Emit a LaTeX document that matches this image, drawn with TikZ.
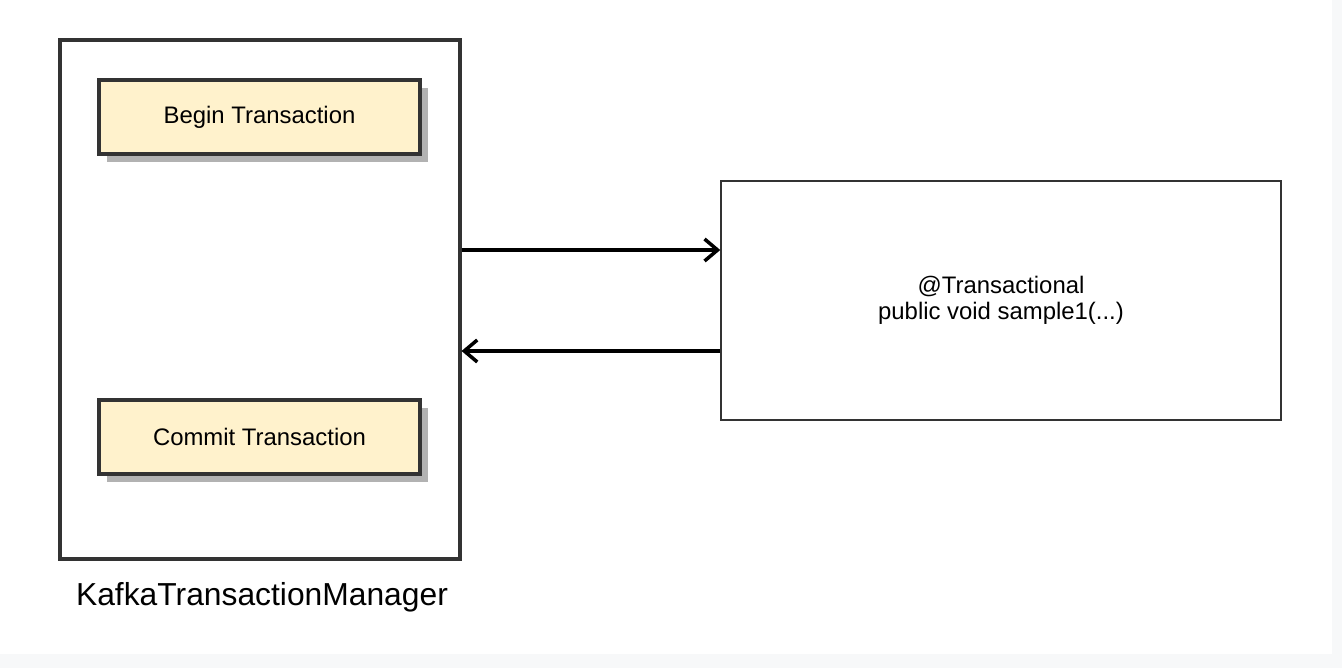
\documentclass[tikz,border=0pt]{standalone}
\usepackage{fontspec}
\setmainfont{Liberation Sans}
\usetikzlibrary{arrows.meta,shadows}
\definecolor{linegray}{HTML}{333333}
\definecolor{boxyellow}{HTML}{FFF2CC}
\definecolor{pagegray}{HTML}{F7F8F9}
\begin{document}
\begin{tikzpicture}[x=0.02cm, y=-0.02cm,
    frame/.style={draw=linegray, line width=1.8pt, minimum width=8cm, minimum height=10.38cm},
    stepbox/.style={draw=linegray, line width=1.8pt, fill=boxyellow, minimum width=6.42cm, minimum height=1.48cm,
      font=\fontsize{13.6}{16}\selectfont,
      drop shadow={shadow xshift=0.16cm, shadow yshift=-0.16cm, fill=black!30, opacity=1}},
    method/.style={draw=linegray, line width=0.9pt, minimum width=11.2cm, minimum height=4.78cm,
      align=center, font=\fontsize{13.6}{15}\selectfont},
    arr/.style={draw=black, line width=2pt, -{Straight Barb[length=2.6mm,width=4.4mm]}}]
        \useasboundingbox (0, 0) rectangle (1342, 668);
        \fill[pagegray] (0, 0) rectangle (1342, 668);
        \fill[white] (0, 0) rectangle (1332, 654);
        \node[frame] (mgr) at (260, 299.5) {};
        \node[stepbox] (begin) at (259.5, 117) {\raisebox{-2pt}{Begin Transaction}};
        \node[stepbox] (commit) at (259.5, 437) {\raisebox{-1pt}{Commit Transaction}};
        \node[font=\fontsize{18.1}{22}\selectfont] (mgrlabel) at (262, 597) {KafkaTransactionManager};
        \node[method] (sample) at (1001, 300.5) {@Transactional\\public void sample1(...)};
        \draw[arr] ([yshift=0.99cm]mgr.east) -- ([yshift=0.99cm]mgr.east -| sample.west);
        \draw[arr] ([yshift=-1.01cm]sample.west) -- ([yshift=-1.01cm]sample.west -| mgr.east);
      \end{tikzpicture}
\end{document}
